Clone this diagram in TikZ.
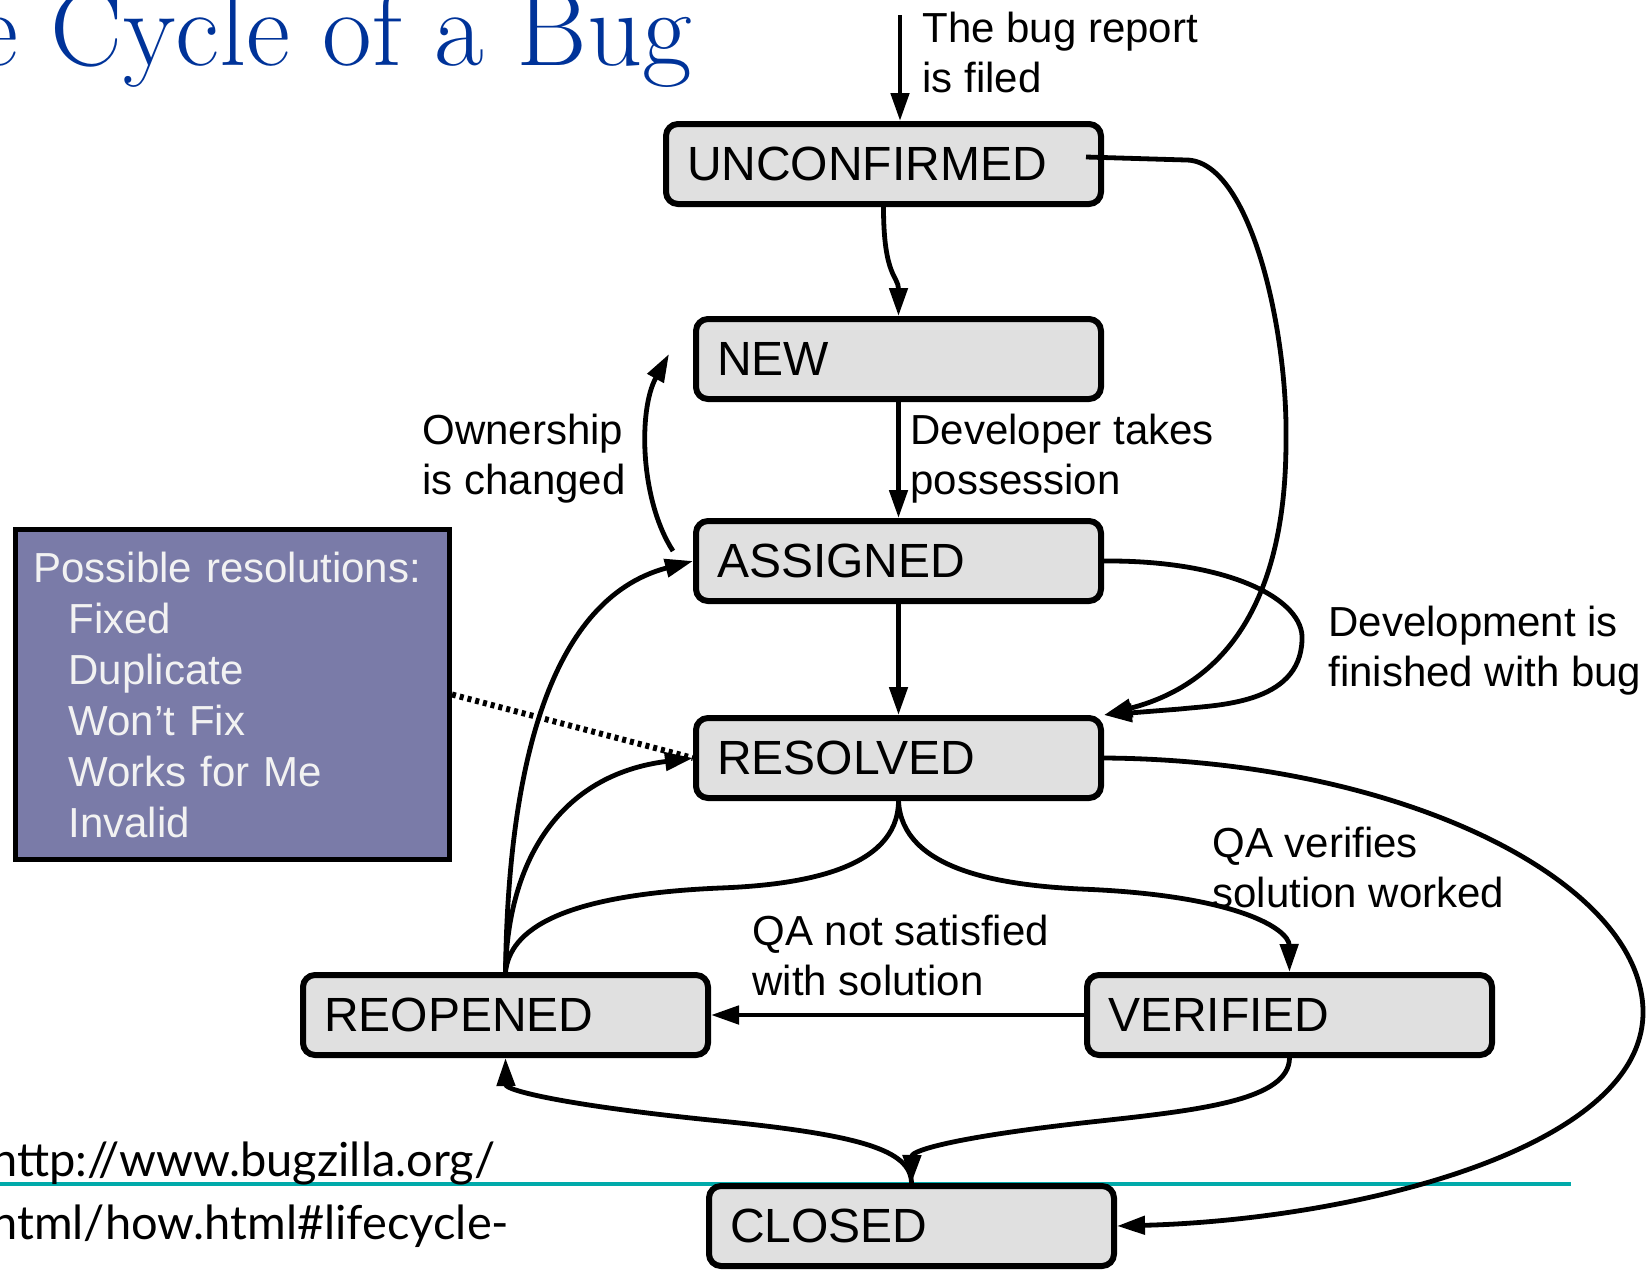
\documentclass[tikz,border=0pt]{standalone}
\usepackage{fontspec}
\newfontfamily\arial{Liberation Sans}
\newfontfamily\gill{Lato}
\usetikzlibrary{arrows.meta}
\definecolor{boxgray}{RGB}{224,224,224}
\definecolor{resfill}{RGB}{122,123,168}
\definecolor{restext}{RGB}{242,242,242}
\definecolor{titleblue}{RGB}{0,51,153}
\definecolor{ruleteal}{RGB}{0,170,170}
\tikzset{
  state/.style={draw, line width=3pt, fill=boxgray, rounded corners=6pt, anchor=north west,
    minimum height=40pt, inner xsep=10.5pt, text width=181.5pt, align=left,
    font=\arial\fontsize{24}{28}\selectfont},
  note/.style={anchor=north west, inner sep=0pt, align=left, font=\arial\fontsize{21}{25}\selectfont},
  flow/.style={line width=2.4pt, -{Triangle[length=14pt,width=9pt]}},
  plain/.style={line width=2.4pt},
  dotline/.style={line width=3pt, dash pattern=on 2pt off 2pt},
  resbox/.style={draw, line width=2.5pt, fill=resfill, anchor=north west, minimum height=165pt,
    inner xsep=9pt, text width=199pt, align=left, text=restext,
    font=\arial\fontsize{21}{25.5}\selectfont},
  titletext/.style={anchor=base west, inner sep=0pt, text=titleblue, font=\rmfamily\fontsize{54}{56}\selectfont},
  urltext/.style={anchor=base west, inner sep=0pt, font=\gill\fontsize{23.5}{28}\selectfont}
}
\begin{document}
\begin{tikzpicture}[x=0.5pt,y=-0.5pt]
\useasboundingbox (0,0) rectangle (1646,1270);
% slide decoration
\draw[ruleteal,line width=2pt] (0,1184) -- (1571,1184);
\node[titletext] (title) at (-26,65) {e Cycle of a Bug};
\node[urltext] (url1) at (-9,1176) {http://www.bugzilla.org/};
\node[urltext] (url2) at (-9,1239) {html/how.html\#lifecycle-};

% states
\node[state,text width=196.5pt] (UNCONFIRMED) at (663,121) {UNCONFIRMED};
\node[state] (NEW) at (693,316) {NEW};
\node[state] (ASSIGNED) at (693,518) {ASSIGNED};
\node[state] (RESOLVED) at (693,715) {RESOLVED};
\node[state] (REOPENED) at (300,972) {REOPENED};
\node[state] (VERIFIED) at (1084,972) {VERIFIED};
\node[state] (CLOSED) at (706,1183) {CLOSED};

\node[resbox] (resolutions) at (13,527) {Possible resolutions:\\
  \hspace*{17.5pt}Fixed\\
  \hspace*{17.5pt}Duplicate\\
  \hspace*{17.5pt}Won’t Fix\\
  \hspace*{17.5pt}Works for Me\\
  \hspace*{17.5pt}Invalid};

% labels
\node[note] (filed) at (922,12) {The bug report\\is filed};
\node[note] (ownership) at (422,414) {Ownership\\is changed};
\node[note] (possession) at (910,414) {Developer takes\\possession};
\node[note] (finished) at (1328,606) {Development is\\finished with bug};
\node[note] (worked) at (1212,827) {QA verifies\\solution worked};
\node[note] (notsatisfied) at (752,915) {QA not satisfied\\with solution};

% transitions
\coordinate (report) at (900,15);
\draw[flow] (report) -- (report |- UNCONFIRMED.north);
\draw[flow] (UNCONFIRMED.south) .. controls +(0,70) and +(0,-40) .. (NEW.north);
\draw[flow] (NEW.south) -- (ASSIGNED.north);
\draw[flow] ([shift={(-20,-10)}]ASSIGNED.west) .. controls (640,500) and (638,410) .. ([shift={(-24,-5)}]NEW.west);
\draw[flow] (ASSIGNED.south) -- (RESOLVED.north);
\draw[flow] (ASSIGNED.east) .. controls (1230,560) and (1305,600) .. (1302,640)
  .. controls (1300,705) and (1215,705) .. (1180,709) -- (RESOLVED.north east);
\draw[flow] ([shift={(-18,-7)}]UNCONFIRMED.east) -- (1186,160)
  .. controls (1250,160) and (1288,330) .. (1286,441)
  .. controls (1286,580) and (1240,680) .. (RESOLVED.north east);
\draw[plain] (RESOLVED.south) .. controls (898,870) and (800,885) .. (720,888)
  .. controls (560,895) and (510,930) .. (REOPENED.north);
\draw[flow] (RESOLVED.south) .. controls (902,870) and (1000,885) .. (1080,889)
  .. controls (1240,895) and (1289,930) .. (VERIFIED.north);
\draw[flow] (REOPENED.north) .. controls (508,780) and (545,600) .. (ASSIGNED.west);
\draw[flow] (REOPENED.north) .. controls (508,860) and (560,775) .. (RESOLVED.west);
\draw[flow] (VERIFIED.west) -- (REOPENED.east);
\draw[flow] (VERIFIED.south) .. controls (1289,1100) and (1200,1110) .. (1100,1121)
  .. controls (960,1136) and (912,1150) .. (CLOSED.north);
\draw[flow] (CLOSED.north) .. controls (911,1150) and (860,1135) .. (720,1121)
  .. controls (560,1105) and (506,1090) .. (REOPENED.south);
\draw[flow] (RESOLVED.east) .. controls (1400,760) and (1640,880) .. (1643,1010)
  .. controls (1646,1150) and (1350,1220) .. (CLOSED.east);
\draw[dotline] (resolutions.east) -- (RESOLVED.west);
\end{tikzpicture}
\end{document}
